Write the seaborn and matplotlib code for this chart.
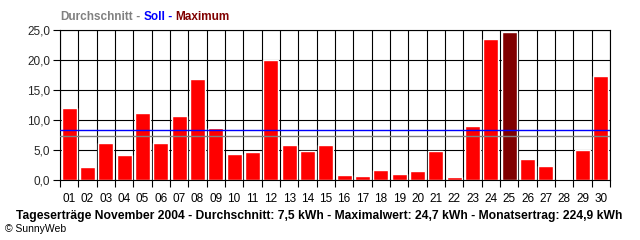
import matplotlib
matplotlib.use("Agg")
import matplotlib.pyplot as plt
import seaborn as sns
import numpy as np
import pandas as pd

days = [f"{i:02d}" for i in range(1, 31)]
values = [12.0, 2.2, 6.1, 4.1, 11.2, 6.2, 10.6, 16.8, 8.7, 4.4,
          4.6, 20.0, 5.9, 4.9, 5.9, 0.8, 0.7, 1.7, 1.0, 1.5,
          4.9, 0.5, 9.0, 23.5, 24.7, 3.5, 2.3, 0.2, 5.0, 17.3]
average = 7.4
target = 8.3
ytick_vals = [0, 5, 10, 15, 20, 25]
ytick_labels = ["0,0", "5,0", "10,0", "15,0", "20,0", "25,0"]

sns.set_theme(style="white")
plt.rcParams['font.family'] = ['Liberation Sans', 'DejaVu Sans']

maxv = max(values)
colors = ["#800000" if v == maxv else "#FF0000" for v in values]
df = pd.DataFrame({"day": days, "value": values})

fig = plt.figure(figsize=(6.4, 2.4), dpi=100)
ax = fig.add_axes([60/640, 60/240, 550/640, 150/240])
sns.barplot(data=df, x="day", y="value", hue="day", palette=colors,
            legend=False, width=0.82, saturation=1, ax=ax, zorder=2)

ax.set_xlim(-0.5, 29.5)
ax.set_ylim(0, 25)
ax.set_xlabel("")
ax.set_ylabel("")
ax.set_yticks(ytick_vals)
ax.set_yticklabels(ytick_labels, fontsize=8.5)
ax.set_xticks(range(30))
ax.set_xticklabels(days, fontsize=8.5)
ax.set_xticks(np.arange(-0.5, 30, 1), minor=True)
ax.tick_params(axis="x", which="major", length=0, pad=9, colors="black")
ax.tick_params(axis="x", which="minor", length=5, width=0.8, color="black", direction="out", bottom=True)
ax.tick_params(axis="y", which="major", length=5, width=0.8, color="black", direction="out", left=True, pad=2)
ax.grid(False)
ax.xaxis.grid(True, which="minor", color="black", linewidth=0.8, zorder=1)
ax.yaxis.grid(True, which="major", color="black", linewidth=0.8, zorder=1)
ax.set_axisbelow(True)
for s in ax.spines.values():
    s.set_color("black")
    s.set_linewidth(0.8)

ax.axhline(target, color="#0000FF", linewidth=1.0, zorder=3)
ax.axhline(average, color="#808080", linewidth=1.0, zorder=3)

# legend-like title
x0 = 60/640
y0 = 1 - 17/240
parts = [("Durchschnitt", "#808080"), (" - ", "#808080"), ("Soll", "#0000FF"),
         (" - ", "#0000FF"), ("Maximum", "#800000")]
renderer = fig.canvas.get_renderer()
x = x0
for txt, col in parts:
    t = fig.text(x, y0, txt, color=col, fontsize=8.5, fontweight="bold", va="center", ha="left")
    bb = t.get_window_extent(renderer=renderer)
    x += bb.width / 640

fig.text(16/640, 1 - 216/240,
         "Tageserträge November 2004 - Durchschnitt: 7,5 kWh - Maximalwert: 24,7 kWh - Monatsertrag: 224,9 kWh",
         fontsize=8.7, fontweight="bold", va="center", ha="left", color="black")
fig.text(5/640, 1 - 229/240, "© SunnyWeb", fontsize=7.5, va="center", ha="left", color="black")

fig.savefig("out.png", dpi=100, facecolor="white")
